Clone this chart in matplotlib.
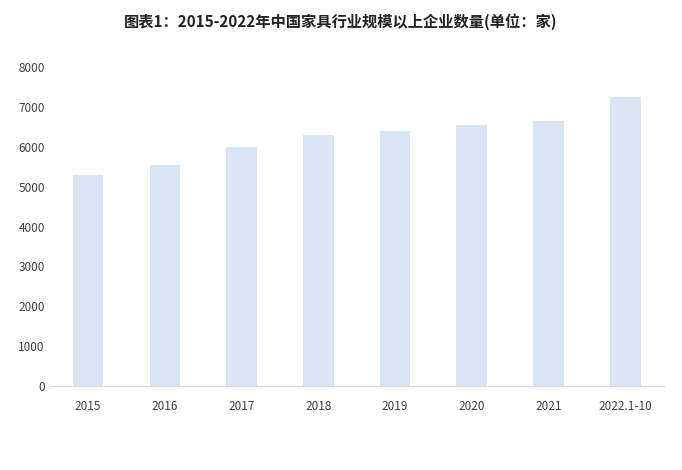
import matplotlib.pyplot as plt

plt.rcParams['font.family'] = ['Noto Sans CJK SC', 'DejaVu Sans']

years = ['2015', '2016', '2017', '2018', '2019', '2020', '2021', '2022.1-10']
counts = [5300, 5550, 6000, 6300, 6400, 6550, 6650, 7250]

fig = plt.figure(figsize=(6.82, 4.70), dpi=100)
ax = fig.add_axes([0.073, 0.178, 0.9, 0.68])
ax.bar(years, counts, width=0.4, color='#d9e5f5')
ax.set_ylim(0, 8000)
ax.set_yticks(range(0, 8001, 1000))
ax.set_xlim(-0.5, 7.5)
for s in ['top', 'right', 'left']:
    ax.spines[s].set_visible(False)
ax.spines['bottom'].set_color('#d9d9d9')
ax.tick_params(length=0, labelsize=8.5, colors='#404040')
ax.tick_params(axis='x', pad=10)
fig.text(0.5, 0.955, '图表1：2015-2022年中国家具行业规模以上企业数量(单位：家)',
         ha='center', va='center', fontsize=11, fontweight='bold', color='#222222')
fig.savefig('out.png')
